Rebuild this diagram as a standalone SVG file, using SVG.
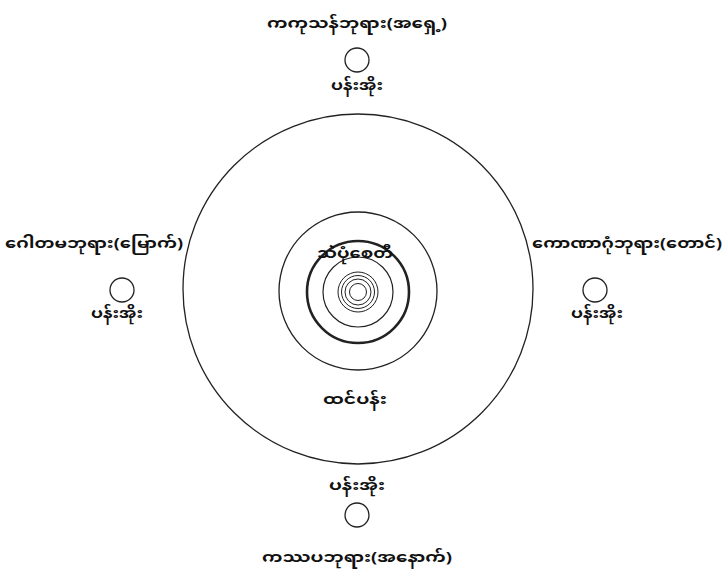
<svg xmlns="http://www.w3.org/2000/svg" width="723" height="575" viewBox="0 0 723 575">
<style>
.t{font-family:"Noto Sans Myanmar","Padauk","Myanmar Text","Noto Sans",sans-serif;font-weight:bold;font-size:15px;fill:#111;text-anchor:middle}
.c{fill:none;stroke:#222}
</style>
<rect width="723" height="575" fill="#fff"/>
<g id="rings">
<circle class="c" cx="358" cy="289" r="175" stroke-width="1.3"/>
<circle class="c" cx="358" cy="291" r="79" stroke-width="1.3"/>
<circle class="c" cx="358" cy="292" r="51" stroke-width="2.6"/>
<circle class="c" cx="358" cy="292" r="35" stroke-width="1.2"/>
<circle class="c" cx="358" cy="292" r="20" stroke-width="1"/>
<circle class="c" cx="358" cy="292" r="16.5" stroke-width="1"/>
<circle class="c" cx="358" cy="292" r="13" stroke-width="1"/>
<circle class="c" cx="358" cy="292" r="8.5" stroke-width="1"/>
</g>
<g id="center-labels">
<text class="t" x="355" y="258" textLength="76" lengthAdjust="spacingAndGlyphs">သဲပုံစေတီ</text>
<text class="t" x="355" y="404" textLength="64" lengthAdjust="spacingAndGlyphs">ထင်ပန်း</text>
</g>
<g id="north">
<text class="t" x="357" y="28" textLength="180" lengthAdjust="spacingAndGlyphs">ကကုသန်ဘုရား(အရှေ့)</text>
<circle class="c" cx="357" cy="60" r="12" stroke-width="1.3"/>
<text class="t" x="357" y="90" textLength="52" lengthAdjust="spacingAndGlyphs">ပန်းအိုး</text>
</g>
<g id="west">
<text class="t" x="94" y="248" textLength="178" lengthAdjust="spacingAndGlyphs">ဂေါတမဘုရား(မြောက်)</text>
<circle class="c" cx="122" cy="290" r="12" stroke-width="1.3"/>
<text class="t" x="117" y="318" textLength="52" lengthAdjust="spacingAndGlyphs">ပန်းအိုး</text>
</g>
<g id="east">
<text class="t" x="627" y="248" textLength="190" lengthAdjust="spacingAndGlyphs">ကောဏာဂုံဘုရား(တောင်)</text>
<circle class="c" cx="595" cy="290" r="12" stroke-width="1.3"/>
<text class="t" x="597" y="318" textLength="52" lengthAdjust="spacingAndGlyphs">ပန်းအိုး</text>
</g>
<g id="south">
<text class="t" x="357" y="490" textLength="56" lengthAdjust="spacingAndGlyphs">ပန်းအိုး</text>
<circle class="c" cx="357" cy="515" r="12" stroke-width="1.3"/>
<text class="t" x="357" y="562" textLength="190" lengthAdjust="spacingAndGlyphs">ကဿပဘုရား(အနောက်)</text>
</g>
</svg>
